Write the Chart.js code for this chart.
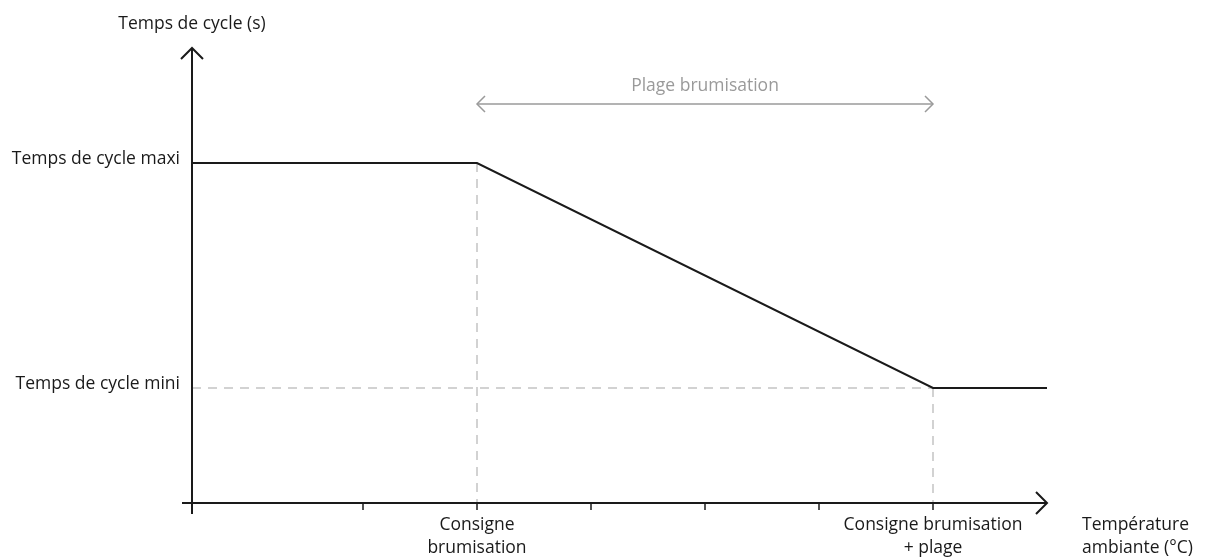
<html>
<head>
  <script src="https://cdn.jsdelivr.net/npm/chart.js@4.4.1/dist/chart.umd.min.js"></script>
  <style>
    body { margin: 0; background: #fff; }
    #wrap { width: 1205px; height: 558px; }
  </style>
  <script>
  // schematic values (arbitrary units)
  const cycleMaxi = 7.47;
  const cycleMini = 2.53;
  const consigne = 2.5;
  const consignePlage = 6.5;
  const tempPositions = [0, consigne, consignePlage, 7.5];
  const cycleTimes = [cycleMaxi, cycleMaxi, cycleMini, cycleMini];
  const xTicks = [1.5, 2.5, 3.5, 4.5, 5.5, 6.5];
  const xTickLabels = { 2.5: ["Consigne", "brumisation"], 6.5: ["Consigne brumisation", "+ plage"] };
  const yTickValues = [cycleMaxi, cycleMini];
  const yTickLabels = ["Temps de cycle maxi", "Temps de cycle mini"];
  const yTitle = "Temps de cycle (s)";
  const xTitle = ["Température", "ambiante (°C)"];
  const rangeLabel = "Plage brumisation";
  const rangeLevel = 8.77;

  const FONT = '17.5px "Open Sans"';

  let chevron = (ctx, x, y, dx, dy, size) => {
    // arrow head pointing along (dx, dy)
    let px = -dy, py = dx;
    ctx.beginPath();
    ctx.moveTo(x - dx * size + px * size, y - dy * size + py * size);
    ctx.lineTo(x, y);
    ctx.lineTo(x - dx * size - px * size, y - dy * size - py * size);
    ctx.stroke();
  };

  const schemaPlugin = {
    id: 'schema',
    afterDatasetsDraw(chart) {
      const ctx = chart.ctx;
      const xs = chart.scales.x, ys = chart.scales.y;
      const x0 = xs.getPixelForValue(0), y0 = ys.getPixelForValue(0);
      const xEnd = xs.getPixelForValue(xs.max), yTop = ys.getPixelForValue(ys.max);
      ctx.save();
      ctx.strokeStyle = '#1a1a1a';
      ctx.lineWidth = 2;
      ctx.lineCap = 'butt';
      // axes
      ctx.beginPath();
      ctx.moveTo(x0, yTop); ctx.lineTo(x0, y0 + 11);
      ctx.moveTo(x0 - 10, y0); ctx.lineTo(xEnd, y0);
      ctx.stroke();
      chevron(ctx, x0, yTop, 0, -1, 11);
      chevron(ctx, xEnd, y0, 1, 0, 11);
      // x ticks
      ctx.lineWidth = 1.5;
      xTicks.forEach(v => {
        const px = xs.getPixelForValue(v);
        ctx.beginPath(); ctx.moveTo(px, y0); ctx.lineTo(px, y0 + 7); ctx.stroke();
      });
      // texts
      ctx.fillStyle = '#1a1a1a';
      ctx.font = FONT;
      ctx.textBaseline = 'middle';
      ctx.textAlign = 'center';
      ctx.fillText(yTitle, x0, 24);
      Object.keys(xTickLabels).forEach(k => {
        const px = xs.getPixelForValue(+k);
        xTickLabels[k].forEach((t, i) => ctx.fillText(t, px, y0 + 22 + i * 23));
      });
      ctx.textAlign = 'right';
      yTickValues.forEach((v, i) => ctx.fillText(yTickLabels[i], x0 - 12, ys.getPixelForValue(v) - 4));
      ctx.textAlign = 'left';
      xTitle.forEach((t, i) => ctx.fillText(t, xEnd + 35, y0 + 22 + i * 23));
      // range arrow
      const ra = xs.getPixelForValue(consigne), rb = xs.getPixelForValue(consignePlage);
      const ry = ys.getPixelForValue(rangeLevel);
      ctx.strokeStyle = '#9a9a9a';
      ctx.lineWidth = 1.5;
      ctx.beginPath(); ctx.moveTo(ra, ry); ctx.lineTo(rb, ry); ctx.stroke();
      chevron(ctx, ra, ry, -1, 0, 8);
      chevron(ctx, rb, ry, 1, 0, 8);
      ctx.fillStyle = '#9a9a9a';
      ctx.textAlign = 'center';
      ctx.fillText(rangeLabel, (ra + rb) / 2, ry - 18);
      ctx.restore();
    }
  };

  window.onload = () => {
    const dash = { borderColor: '#c4c4c4', borderWidth: 1.5, borderDash: [9, 7], pointRadius: 0, fill: false };
    new Chart(document.getElementById('myChart').getContext('2d'), {
      type: 'line',
      data: {
        datasets: [{
          data: tempPositions.map((x, i) => ({ x: x, y: cycleTimes[i] })),
          borderColor: '#1a1a1a',
          borderWidth: 2,
          pointRadius: 0,
          fill: false,
          order: 0
        }, Object.assign({ data: [{ x: 0, y: cycleMini }, { x: consignePlage, y: cycleMini }], order: 1 }, dash),
           Object.assign({ data: [{ x: consigne, y: cycleMaxi }, { x: consigne, y: 0 }], order: 1 }, dash),
           Object.assign({ data: [{ x: consignePlage, y: cycleMini }, { x: consignePlage, y: 0 }], order: 1 }, dash)]
      },
      options: {
        responsive: false,
        animation: false,
        layout: { padding: { left: 192, right: 158, top: 48, bottom: 55 } },
        plugins: { legend: { display: false }, tooltip: { enabled: false } },
        scales: {
          x: { type: 'linear', min: 0, max: 7.5, display: false },
          y: { type: 'linear', min: 0, max: 10, display: false }
        }
      },
      plugins: [schemaPlugin]
    });
  };
  </script>
</head>
<body>
  <div id="wrap">
    <canvas id="myChart" width="1205" height="558"></canvas>
  </div>
</body>
</html>
